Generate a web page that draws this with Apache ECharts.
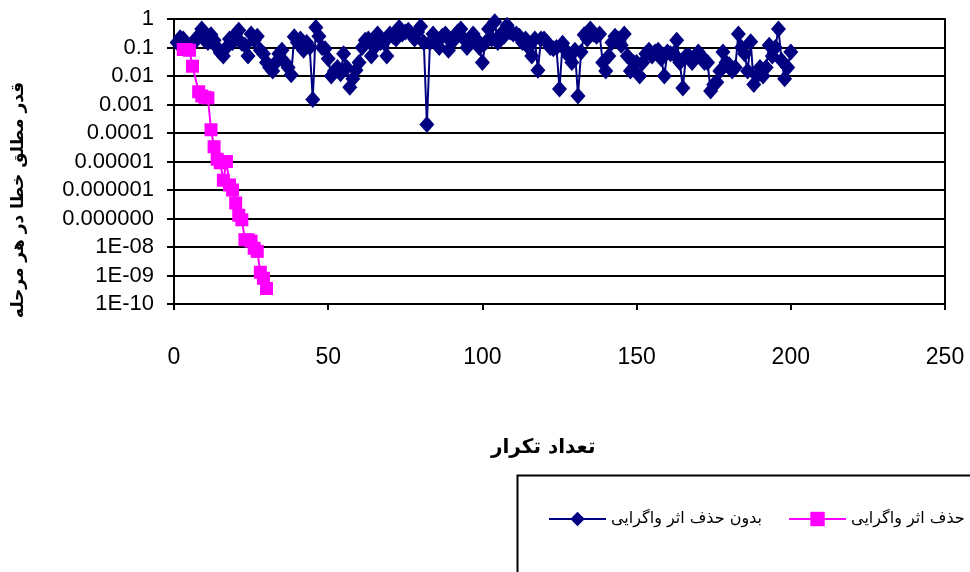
<!DOCTYPE html>
<html>
<head>
<meta charset="utf-8">
<script src="https://cdn.jsdelivr.net/npm/echarts@6/dist/echarts.min.js"></script>
<style>html,body{margin:0;padding:0;background:#fff}#c{width:970px;height:572px}</style>
</head>
<body>
<div id="c"></div>
<script>
// ---- data ----
const seriesNames = ['بدون حذف اثر واگرایی', 'حذف اثر واگرایی'];
const xTitle = 'تعداد تکرار';
const yTitle = 'قدر مطلق خطا در هر مرحله';
const yTickLabels = ['1','0.1','0.01','0.001','0.0001','0.00001','0.000001','0.000000','1E-08','1E-09','1E-10'];
const xTicks = [0, 50, 100, 150, 200, 250];

// without divergence removal: iteration 1..200
const navyValues = [
  0.15, 0.22, 0.2, 0.12, 0.1, 0.13, 0.2, 0.25, 0.45, 0.18,
  0.15, 0.28, 0.18, 0.1, 0.065, 0.05, 0.1, 0.2, 0.15, 0.3,
  0.4, 0.14, 0.12, 0.05, 0.3, 0.18, 0.25, 0.08, 0.06, 0.03,
  0.02, 0.015, 0.03, 0.06, 0.08, 0.03, 0.02, 0.011, 0.24, 0.15,
  0.2, 0.08, 0.15, 0.1, 0.0015, 0.5, 0.25, 0.1, 0.09, 0.04,
  0.01, 0.015, 0.02, 0.012, 0.06, 0.02, 0.004, 0.008, 0.016, 0.03,
  0.1, 0.18, 0.2, 0.05, 0.1, 0.3, 0.15, 0.15, 0.05, 0.3,
  0.25, 0.2, 0.5, 0.3, 0.35, 0.4, 0.3, 0.2, 0.35, 0.55,
  0.15, 0.0002, 0.15, 0.3, 0.2, 0.1, 0.25, 0.3, 0.08, 0.15,
  0.2, 0.35, 0.45, 0.2, 0.1, 0.15, 0.3, 0.2, 0.1, 0.03,
  0.15, 0.45, 0.2, 0.8, 0.15, 0.3, 0.25, 0.6, 0.35, 0.3,
  0.3, 0.25, 0.15, 0.2, 0.1, 0.05, 0.2, 0.016, 0.2, 0.2,
  0.15, 0.1, 0.09, 0.1, 0.0035, 0.14, 0.08, 0.05, 0.03, 0.08,
  0.002, 0.07, 0.28, 0.2, 0.45, 0.3, 0.25, 0.3, 0.03, 0.015,
  0.05, 0.15, 0.25, 0.2, 0.12, 0.3, 0.05, 0.015, 0.03, 0.03,
  0.01, 0.03, 0.06, 0.08, 0.05, 0.07, 0.08, 0.04, 0.01, 0.07,
  0.06, 0.06, 0.18, 0.03, 0.0038, 0.05, 0.05, 0.03, 0.05, 0.07,
  0.05, 0.03, 0.03, 0.003, 0.005, 0.006, 0.015, 0.07, 0.03, 0.025,
  0.015, 0.02, 0.3, 0.1, 0.06, 0.015, 0.16, 0.005, 0.01, 0.02,
  0.01, 0.02, 0.12, 0.05, 0.1, 0.45, 0.035, 0.008, 0.02, 0.07
];

// with divergence removal
const pinkIters = [3, 4, 5, 6, 8, 9, 10, 11, 12, 13, 14, 15, 16, 17, 18, 19, 20, 21, 22, 23, 24, 25, 26, 27, 28, 29, 30];
const pinkValues = [
  0.085, 0.085, 0.08, 0.022, 0.0028, 0.002, 0.0018, 0.0017, 0.00013, 0.000033,
  0.000012, 0.000009, 0.0000022, 0.00001, 0.0000015, 0.000001, 0.00000035, 0.00000013, 0.00000009, 0.000000018,
  0.000000018, 0.000000016, 0.000000009, 0.000000007, 0.0000000013, 0.0000000008, 0.00000000035
];

// ---- build ----
const navyData = navyValues.map((v, i) => [i + 1, v]);
const pinkData = pinkValues.map((v, i) => [pinkIters[i], v]);

const chart = echarts.init(document.getElementById('c'), null, {renderer: 'canvas'});
const labelFont = 'Liberation Sans, Arial, sans-serif';
const arFont = 'DejaVu Sans, sans-serif';

chart.setOption({
  animation: false,
  backgroundColor: '#fff',
  grid: {left: 174, right: 25, top: 19, bottom: 268, containLabel: false, outerBoundsMode: 'none'},
  xAxis: {
    type: 'value', min: xTicks[0], max: xTicks[xTicks.length - 1], interval: 50,
    axisLine: {show: true, onZero: false, lineStyle: {color: '#000', width: 2}},
    axisTick: {show: true, length: 6, lineStyle: {color: '#000', width: 2}},
    axisLabel: {margin: 42, color: '#000', fontSize: 23, fontFamily: labelFont},
    splitLine: {show: false}
  },
  yAxis: [{
    type: 'log', logBase: 10, min: 1e-10, max: 1, interval: 1,
    axisLine: {show: true, lineStyle: {color: '#000', width: 2}},
    axisTick: {show: true, length: 7, lineStyle: {color: '#000', width: 2}},
    axisLabel: {
      margin: 20, color: '#000', fontSize: 22, fontFamily: labelFont,
      formatter: v => yTickLabels[Math.round(-Math.log10(v))]
    },
    splitLine: {show: true, lineStyle: {color: '#000', width: 2}}
  }, {
    type: 'log', logBase: 10, min: 1e-10, max: 1, position: 'right',
    axisLine: {show: true, lineStyle: {color: '#000', width: 2}},
    axisTick: {show: false}, axisLabel: {show: false}, splitLine: {show: false}
  }],
  legend: {
    data: seriesNames,
    left: 548, top: 511, width: 600, padding: 0,
    orient: 'horizontal',
    itemWidth: 57, itemHeight: 18, itemGap: 26,
    textStyle: {fontSize: 16, color: '#000', fontFamily: arFont}
  },
  graphic: [
    {type: 'rect', left: 515, top: 473, shape: {width: 480, height: 130},
     style: {fill: 'none', stroke: '#000', lineWidth: 2}, silent: true},
    {type: 'text', left: 491, top: 438,
     style: {text: xTitle, fill: '#000', font: 'bold 20px DejaVu Sans'}},
    {type: 'text', x: 19, y: 200, rotation: Math.PI / 2,
     style: {text: yTitle, fill: '#000', font: 'bold 17px DejaVu Sans', align: 'center', verticalAlign: 'middle'}}
  ],
  series: [
    {
      name: seriesNames[0], type: 'line', data: navyData, yAxisIndex: 0,
      symbol: 'diamond', symbolSize: [15, 17], showAllSymbol: true,
      itemStyle: {color: '#000080'}, lineStyle: {color: '#000080', width: 2}
    },
    {
      name: seriesNames[1], type: 'line', data: pinkData, yAxisIndex: 0,
      symbol: 'rect', symbolSize: 13, showAllSymbol: true,
      itemStyle: {color: '#FF00FF'}, lineStyle: {color: '#FF00FF', width: 2}
    }
  ]
});
</script>
</body>
</html>
